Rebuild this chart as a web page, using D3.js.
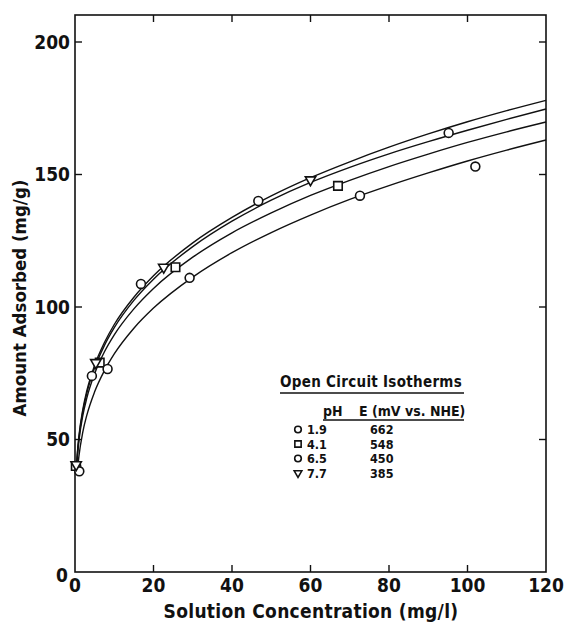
<!DOCTYPE html>
<html>
<head>
<meta charset="utf-8">
<script src="https://cdn.jsdelivr.net/npm/d3@7"></script>
<style>
	body { margin: 0; background: #fff; }
	svg { display: block; }
	text { font-family: "DejaVu Sans Condensed", "DejaVu Sans", sans-serif; font-weight: bold; fill: #111; }
</style>
</head>
<body>
<div id="chart"></div>
<script>
"use strict";

const width = 565, height = 625;

//  Fitted isotherm curves
const concX = [0.4, 0.6, 1, 2, 3, 5, 7.5, 10, 15, 20, 30, 40, 50, 60, 70, 80, 90, 100, 110, 120];
const curvePh77 = [40.4, 44.9, 51.3, 61.4, 68.3, 78.0, 86.6, 93.4, 103.7, 111.8, 124.2, 133.8, 141.9, 148.8, 154.8, 160.3, 165.3, 169.9, 174.1, 178.0];
const curvePh19 = [40.0, 44.3, 50.6, 60.6, 67.4, 77.0, 85.5, 92.2, 102.5, 110.5, 122.8, 132.4, 140.3, 147.0, 152.7, 157.8, 162.4, 166.7, 170.8, 174.7];
const curvePh41 = [39.0, 43.3, 49.4, 59.1, 65.6, 74.8, 83.1, 89.5, 99.3, 107.0, 118.8, 128.0, 135.5, 142.1, 147.8, 153.0, 157.7, 162.1, 166.1, 169.8];
const curvePh65 = [null, 38.0, 43.7, 52.9, 59.1, 68.0, 76.0, 82.3, 92.0, 99.6, 111.3, 120.5, 128.1, 134.7, 140.6, 145.8, 150.6, 155.1, 159.2, 163.0];

//  Measured points
const ph19X = [0.3, 4.3, 16.8, 46.7, 95.2];
const ph19Y = [40, 74, 108.7, 140, 165.7];
const ph41X = [0.2, 6.3, 25.6, 67];
const ph41Y = [40, 79, 115, 145.7];
const ph65X = [1.1, 8.3, 29.2, 72.6, 102];
const ph65Y = [38, 76.6, 111, 142, 153];
const ph77X = [0.3, 5.3, 22.6, 60];
const ph77Y = [40.5, 79, 115, 148];

//  Legend
const legendPh = ['1.9', '4.1', '6.5', '7.7'];
const legendE = ['662', '548', '450', '385'];
const legendShape = ['circle', 'square', 'circle', 'triangle'];

const xTicks = [0, 20, 40, 60, 80, 100, 120];
const yTicks = [0, 50, 100, 150, 200];

const plotLeft = 75, plotRight = 546, plotTop = 15, plotBottom = 572;

let x = d3.scaleLinear().domain([0, 120]).range([plotLeft, plotRight]);
let y = d3.scaleLinear().domain([0, 210]).range([plotBottom, plotTop + 0.5]);

let svg = d3.select('#chart').append('svg')
	.attr('width', width)
	.attr('height', height);

//  Frame and ticks
svg.append('rect')
	.attr('x', plotLeft).attr('y', plotTop)
	.attr('width', plotRight - plotLeft).attr('height', plotBottom - plotTop)
	.attr('fill', 'none').attr('stroke', '#111').attr('stroke-width', 1.6);

const tickLen = 7;
let innerX = xTicks.filter(t => t > 0 && t < 120);
svg.append('g').selectAll('line')
	.data(innerX)
	.join('line')
		.attr('x1', d => x(d)).attr('x2', d => x(d))
		.attr('y1', plotBottom).attr('y2', plotBottom - tickLen)
		.attr('stroke', '#111').attr('stroke-width', 1.4);
svg.append('g').selectAll('line')
	.data(innerX)
	.join('line')
		.attr('x1', d => x(d)).attr('x2', d => x(d))
		.attr('y1', plotTop).attr('y2', plotTop + tickLen)
		.attr('stroke', '#111').attr('stroke-width', 1.4);

let innerY = yTicks.filter(t => t > 0);
svg.append('g').selectAll('line')
	.data(innerY)
	.join('line')
		.attr('x1', plotLeft).attr('x2', plotLeft + tickLen)
		.attr('y1', d => y(d)).attr('y2', d => y(d))
		.attr('stroke', '#111').attr('stroke-width', 1.4);
svg.append('g').selectAll('line')
	.data(innerY)
	.join('line')
		.attr('x1', plotRight).attr('x2', plotRight - tickLen)
		.attr('y1', d => y(d)).attr('y2', d => y(d))
		.attr('stroke', '#111').attr('stroke-width', 1.4);

//  Tick labels
svg.append('g').selectAll('text')
	.data(xTicks)
	.join('text')
		.attr('x', d => x(d))
		.attr('y', 592)
		.attr('text-anchor', 'middle')
		.style('font-size', '19px')
		.text(d => d);

svg.append('g').selectAll('text')
	.data(yTicks)
	.join('text')
		.attr('x', d => d === 0 ? 68 : 70)
		.attr('y', d => y(d) + (d === 0 ? 3 : 0))
		.attr('dy', '0.36em')
		.attr('text-anchor', 'end')
		.style('font-size', '19px')
		.text(d => d);

//  Axis titles
svg.append('text')
	.attr('x', 311).attr('y', 618)
	.attr('text-anchor', 'middle')
	.style('font-size', '19px')
	.style('letter-spacing', '0.3px')
	.text('Solution Concentration (mg/l)');

svg.append('text')
	.attr('transform', 'translate(26, 298) rotate(-90)')
	.attr('text-anchor', 'middle')
	.style('font-size', '18.5px')
	.text('Amount Adsorbed (mg/g)');

//  Curves
let line = d3.line()
	.defined(d => d[1] !== null)
	.x(d => x(d[0]))
	.y(d => y(d[1]))
	.curve(d3.curveMonotoneX);

[curvePh77, curvePh19, curvePh41, curvePh65].forEach(curve =>
{
	svg.append('path')
		.datum(concX.map((c, i) => [c, curve[i]]))
		.attr('d', line)
		.attr('fill', 'none')
		.attr('stroke', '#111')
		.attr('stroke-width', 1.4);
});

//  Markers
function shapePath(shape, scale)
{
	if (shape === 'square')
		return d3.symbol(d3.symbolSquare, 72 * scale)();
	if (shape === 'triangle')
		return d3.symbol(d3.symbolTriangle, 46 * scale)();
	return d3.symbol(d3.symbolCircle, 62 * scale)();
}

function drawMarker(g, shape, px, py, scale = 1)
{
	g.append('path')
		.attr('d', shapePath(shape, scale))
		.attr('transform', `translate(${px}, ${py})` + (shape === 'triangle' ? ' rotate(180)' : ''))
		.attr('fill', '#fff')
		.attr('stroke', '#111')
		.attr('stroke-width', 1.6);
}

let marks = svg.append('g');
[[ph19X, ph19Y, 'circle'], [ph41X, ph41Y, 'square'], [ph65X, ph65Y, 'circle'], [ph77X, ph77Y, 'triangle']].forEach(([xs, ys, shape]) =>
	xs.forEach((c, i) => drawMarker(marks, shape, x(c), y(ys[i]))));

//  Legend
let legend = svg.append('g');
legend.append('text')
	.attr('x', 280).attr('y', 387)
	.style('font-size', '15px')
	.style('letter-spacing', '0.3px')
	.text('Open Circuit Isotherms');
legend.append('line')
	.attr('x1', 280).attr('x2', 464).attr('y1', 393).attr('y2', 393)
	.attr('stroke', '#111').attr('stroke-width', 1.6);
legend.append('text')
	.attr('x', 323).attr('y', 416)
	.style('font-size', '14px')
	.text('pH');
legend.append('text')
	.attr('x', 359).attr('y', 416)
	.style('font-size', '14px')
	.text('E (mV vs. NHE)');
legend.append('line')
	.attr('x1', 323).attr('x2', 464).attr('y1', 420).attr('y2', 420)
	.attr('stroke', '#111').attr('stroke-width', 1.3);

const rowStep = 14.5, firstRow = 434;
legendShape.forEach((shape, i) =>
{
	let rowY = firstRow + i * rowStep;
	drawMarker(legend, shape, 298, rowY - 4.5, 0.55);
	legend.append('text')
		.attr('x', 307).attr('y', rowY)
		.style('font-size', '12.5px')
		.text(legendPh[i]);
	legend.append('text')
		.attr('x', 370).attr('y', rowY)
		.style('font-size', '12.5px')
		.text(legendE[i]);
});
</script>
</body>
</html>
